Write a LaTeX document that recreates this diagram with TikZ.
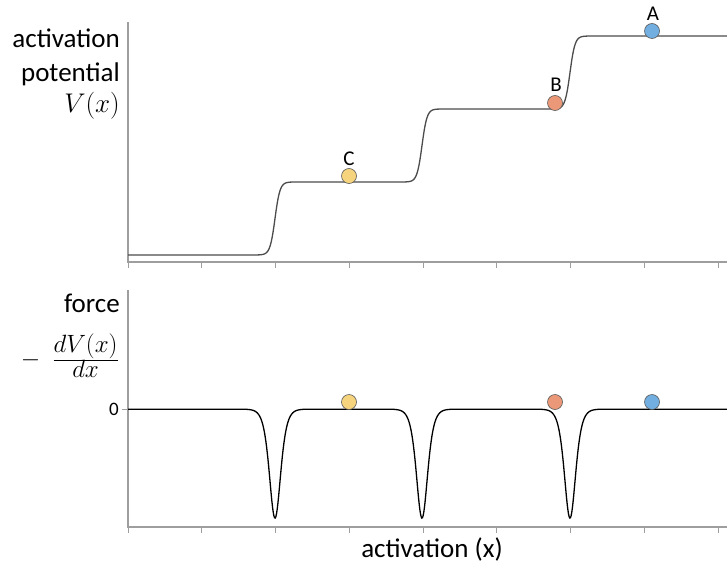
\RequirePackage{fix-cm}
\documentclass[tikz,border=0pt]{standalone}
\usepackage[no-math]{fontspec}
\setmainfont{Carlito}
\begin{document}
\begin{tikzpicture}[x=1pt,y=-1pt,
  declare function={cl(\t)=max(min(\t,4.5),-4.5);
    st(\t)=0.5*(1+tanh(cl(\t)));
    sp(\t)=1-tanh(cl(\t))^2;},
  spine/.style={draw=black!38, line width=1.1pt},
  tickmark/.style={draw=black!38, line width=1pt},
  ball/.style={circle, draw=black!65, line width=0.6pt, minimum size=15pt, inner sep=0pt},
  lab/.style={font=\fontsize{21}{23}\selectfont, inner sep=0pt, anchor=base},
  ylab/.style={font=\fontsize{27}{29}\selectfont, anchor=base east, inner sep=0pt},
  curvetop/.style={draw=black!70, line width=1.3pt},
  curvebot/.style={draw=black, line width=1.3pt}]
\useasboundingbox (0,0) rectangle (727,567);
\definecolor{ballA}{HTML}{72AEDF}
\definecolor{ballB}{HTML}{EB9878}
\definecolor{ballC}{HTML}{F6D47E}
% top axes
\coordinate (tl) at (128,22);
\coordinate (to) at (128,262);
\coordinate (tr) at (727,262);
\draw[spine] (tl) -- (to) -- (tr);
\foreach \k in {0,...,8}{\draw[tickmark] (128+73.75*\k,262) -- ++(0,6);}
% bottom axes
\coordinate (bl) at (128,290);
\coordinate (bo) at (128,527);
\coordinate (br) at (727,527);
\draw[spine] (bl) -- (bo) -- (br);
\foreach \k in {0,...,8}{\draw[tickmark] (128+73.75*\k,527) -- ++(0,6);}
\coordinate (z0) at (128,409);
\coordinate (z1) at (122,409);
\draw[tickmark] (z1) -- (z0);
% curves
\draw[curvetop] plot[domain=128:727, samples=700, smooth] (\x,{255-73*(st((\x-275)/5)+st((\x-422)/5)+st((\x-570)/5))});
\draw[curvebot] plot[domain=128:727, samples=900] (\x,{409+109*(sp((\x-275)/7.5)+sp((\x-422)/7.5)+sp((\x-570)/7.5))});
% balls top
\node[ball, fill=ballC] (c) at (349,176) {};
\node[ball, fill=ballB] (b) at (555,103) {};
\node[ball, fill=ballA] (a) at (652,31) {};
\node[lab] (lc) at (349,165) {C};
\node[lab] (lb) at (556,92) {B};
\node[lab] (la) at (653,21) {A};
% balls bottom
\node[ball, fill=ballC] (c2) at (349,402) {};
\node[ball, fill=ballB] (b2) at (555,402) {};
\node[ball, fill=ballA] (a2) at (652,402) {};
% labels
\node[ylab] (t1) at (120,48) {activation};
\node[ylab] (t2) at (120,82) {potential};
\node[ylab] (t3) at (120,112) {$V(x)$};
\node[ylab] (f1) at (120,312) {force};
\node[ylab, anchor=east, font=\fontsize{25}{27}\selectfont] (f2) at (119,356) {$-\hspace{12pt}\frac{\displaystyle dV(x)}{\displaystyle dx}$};
\node[font=\fontsize{19}{21}\selectfont, anchor=east, inner sep=0pt] (zero) at (119,409) {0};
\node[font=\fontsize{27}{29}\selectfont, inner sep=0pt, anchor=base] (xl) at (432,557) {activation (x)};
\end{tikzpicture}
\end{document}
